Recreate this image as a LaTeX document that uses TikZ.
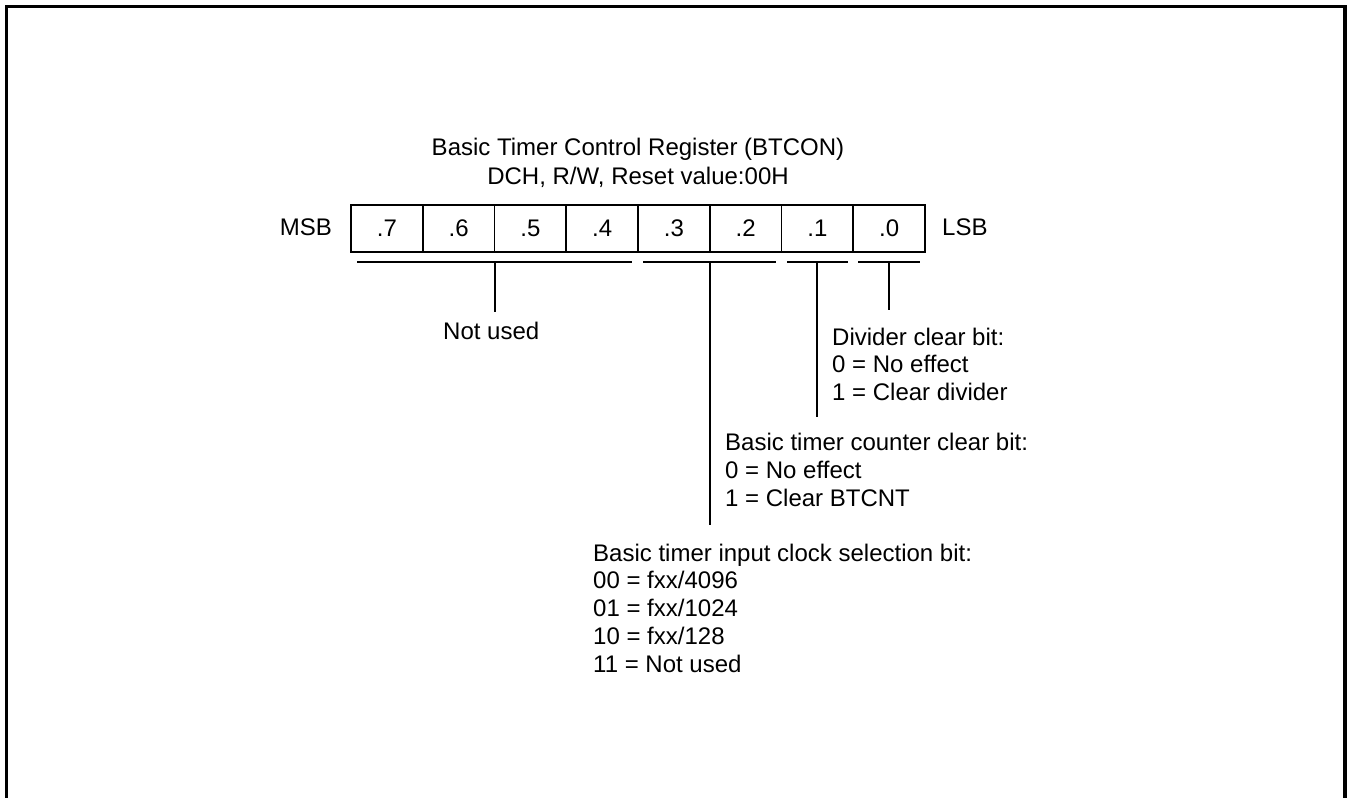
\documentclass[tikz,border=0pt]{standalone}
\usepackage{fontspec}
\setmainfont{Liberation Sans}
\begin{document}
\begin{tikzpicture}[x=1pt,y=-1pt,
  txt/.style={inner sep=0pt,font=\fontsize{24}{27.7}\selectfont},
  cell/.style={draw,line width=1.9pt,minimum width=71.75pt,minimum height=47pt,inner sep=0pt,font=\fontsize{24}{27.7}\selectfont},
  lin/.style={line width=2pt},
  frame/.style={line width=3.3pt}]
\useasboundingbox (0,0) rectangle (1347,798);
% frame
\coordinate (fbl) at (6.8,800);
\coordinate (ftl) at (6.8,6.8);
\coordinate (ftr) at (1345,6.8);
\coordinate (fbr) at (1345,800);
\draw[frame] (fbl) -- (ftl) -- (ftr) -- (fbr);
% title
\node[txt,anchor=base] (t1) at (638,155) {Basic Timer Control Register (BTCON)};
\node[txt,anchor=base] (t2) at (638,184) {DCH, R/W, Reset value:00H};
% cells
\foreach \i/\n in {0/7,1/6,2/5,3/4,4/3,5/2,6/1,7/0}{
  \node[cell] (c\n) at ({351+71.75*(\i+0.5)},228.5) {.\n};
}
\node[txt,anchor=base east] (msb) at (332,235.5) {MSB};
\node[txt,anchor=base west] (lsb) at (942,235.5) {LSB};
% brackets
\coordinate (a1) at (357,262); \coordinate (a2) at (632,262);
\coordinate (b1) at (643,262); \coordinate (b2) at (776,262);
\coordinate (d1) at (787,262); \coordinate (d2) at (848,262);
\coordinate (e1) at (858,262); \coordinate (e2) at (920,262);
\draw[lin] (a1) -- (a2);
\draw[lin] (b1) -- (b2);
\draw[lin] (d1) -- (d2);
\draw[lin] (e1) -- (e2);
\coordinate (am) at (494.5,262); \coordinate (ae) at (494.5,312);
\coordinate (bm) at (709.5,262); \coordinate (be) at (709.5,525);
\coordinate (dm) at (817,262); \coordinate (de) at (817,417);
\coordinate (em) at (889,262); \coordinate (ee) at (889,310);
\draw[lin] (am) -- (ae);
\draw[lin] (bm) -- (be);
\draw[lin] (dm) -- (de);
\draw[lin] (em) -- (ee);
% texts
\node[txt,anchor=base west] (nu) at (443,339) {Not used};
\node[txt,anchor=base west] (dv1) at (832,345) {Divider clear bit:};
\node[txt,anchor=base west] (dv2) at (832,372.5) {0 = No effect};
\node[txt,anchor=base west] (dv3) at (832,400) {1 = Clear divider};
\node[txt,anchor=base west] (bc1) at (725,450) {Basic timer counter clear bit:};
\node[txt,anchor=base west] (bc2) at (725,478) {0 = No effect};
\node[txt,anchor=base west] (bc3) at (725,506) {1 = Clear BTCNT};
\node[txt,anchor=base west] (ic1) at (593,561) {Basic timer input clock selection bit:};
\node[txt,anchor=base west] (ic2) at (593,588.7) {00 = fxx/4096};
\node[txt,anchor=base west] (ic3) at (593,616.4) {01 = fxx/1024};
\node[txt,anchor=base west] (ic4) at (593,644) {10 = fxx/128};
\node[txt,anchor=base west] (ic5) at (593,672) {11 = Not used};
\end{tikzpicture}
\end{document}
